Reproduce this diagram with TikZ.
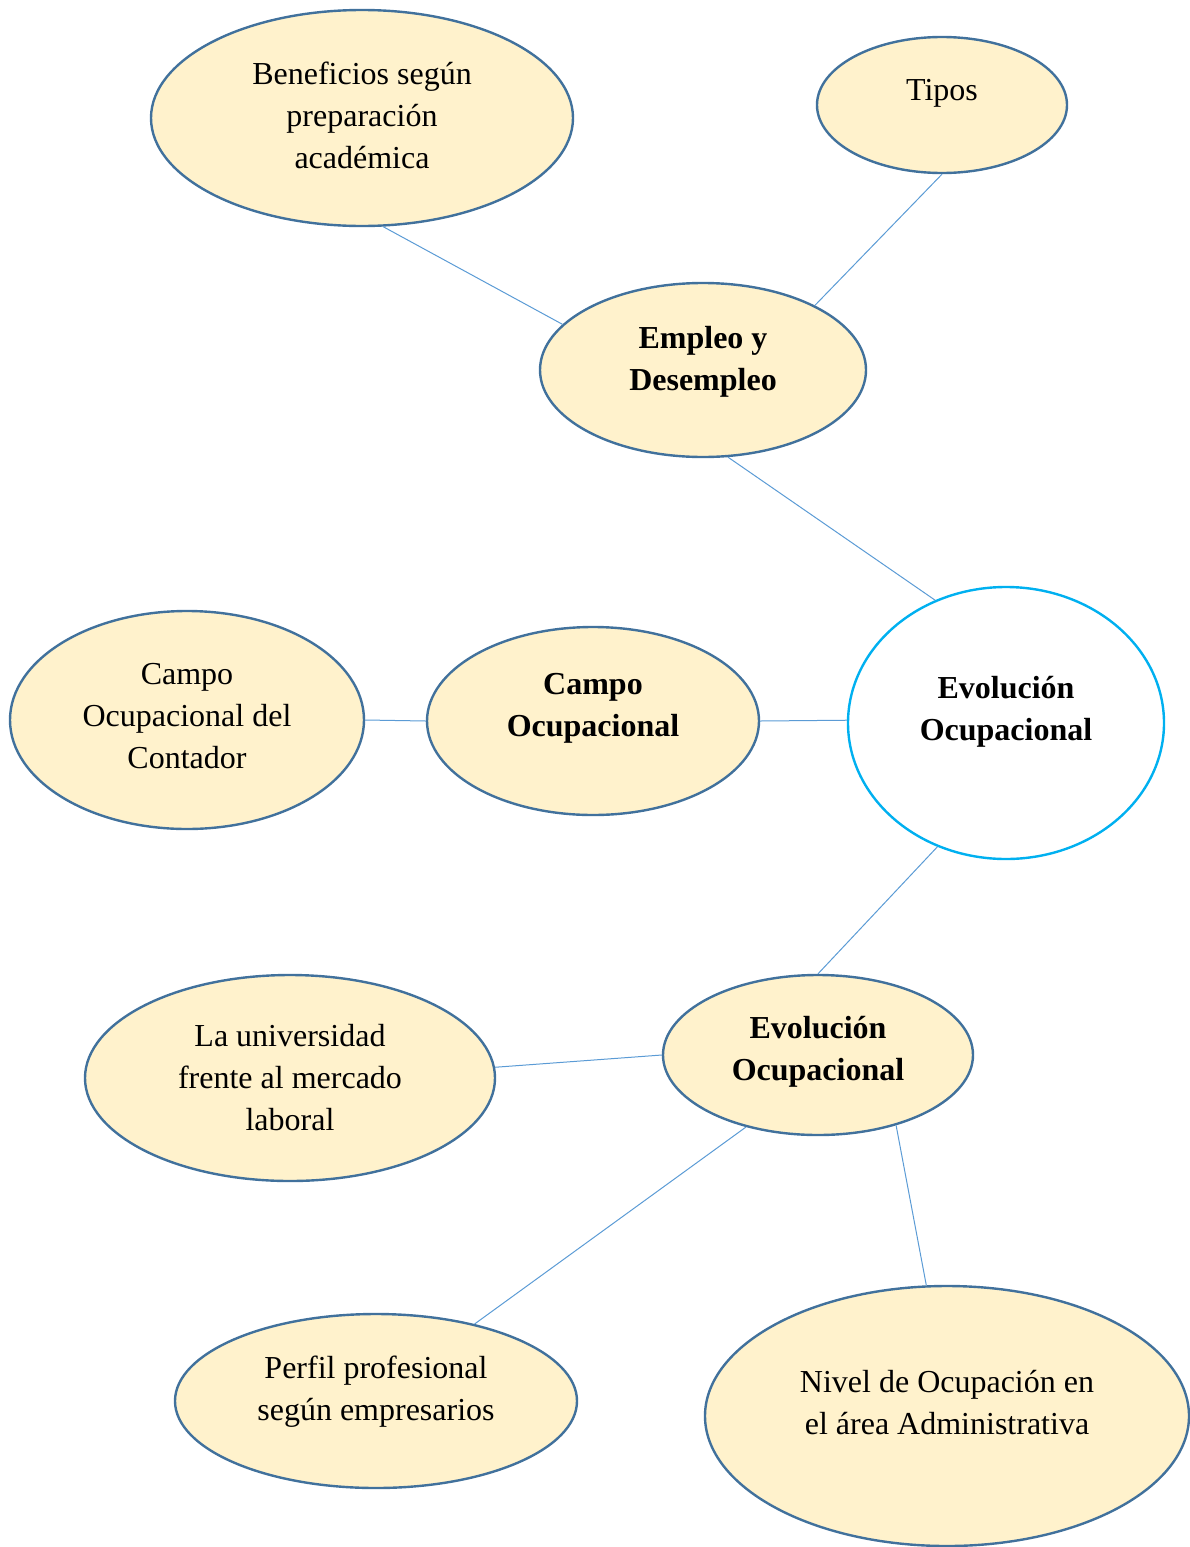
\documentclass[tikz,border=0pt]{standalone}
\usepackage{fontspec}
\setmainfont{Liberation Serif}
\usetikzlibrary{shapes.geometric}
\definecolor{fillc}{HTML}{FFF2CC}
\definecolor{bordc}{HTML}{41719C}
\definecolor{linec}{HTML}{5B9BD5}
\definecolor{cyanc}{HTML}{00B0F0}
\begin{document}
\begin{tikzpicture}[x=1pt,y=-1pt,
 bubble/.style={ellipse,draw=bordc,fill=fillc,line width=2.4pt,inner sep=0pt},
 hub/.style={ellipse,draw=cyanc,fill=white,line width=2.4pt,inner sep=0pt},
 txt/.style={align=center,font=\fontsize{32}{42}\selectfont,inner sep=0pt},
 btxt/.style={align=center,font=\fontsize{32}{42}\selectfont\bfseries,inner sep=0pt},
 link/.style={draw=linec,line width=1pt}]
\useasboundingbox (0,0) rectangle (1189,1547);
% ellipses
\node[bubble,minimum width=422,minimum height=216] (ben) at (362,118) {};
\node[bubble,minimum width=250,minimum height=136] (tip) at (942,105) {};
\node[bubble,minimum width=326,minimum height=174] (emp) at (703,370) {};
\node[hub,minimum width=316,minimum height=272] (evo) at (1006,723) {};
\node[bubble,minimum width=332,minimum height=188] (cam) at (593,721) {};
\node[bubble,minimum width=354,minimum height=218] (con) at (187,720) {};
\node[bubble,minimum width=310,minimum height=160] (evb) at (818,1055) {};
\node[bubble,minimum width=410,minimum height=206] (uni) at (290,1078) {};
\node[bubble,minimum width=402,minimum height=174] (per) at (376,1401) {};
\node[bubble,minimum width=484,minimum height=260] (niv) at (947,1416) {};
% connectors
\draw[link] (ben.281.5) -- (emp.162);
\draw[link] (tip.270) -- (emp.30);
\draw[link] (emp.286.6) -- (evo.120.8);
\draw[link] (con.0) -- (cam.180);
\draw[link] (cam.0) -- (evo.179.6);
\draw[link] (evo.241) -- (evb.90);
\draw[link] (uni.3) -- (evb.180);
\draw[link] (evb.225) -- (per.38);
\draw[link] (evb.318) -- (niv.99);
% texts
\node[txt] (tben) at (362,115) {Beneficios según\\preparación\\académica};
\node[txt] (ttip) at (942,93) {Tipos};
\node[btxt] (temp) at (703,362) {Empleo y\\Desempleo};
\node[btxt] (tevo) at (1006,712) {Evolución\\Ocupacional};
\node[btxt] (tcam) at (593,708) {Campo\\Ocupacional};
\node[txt] (tcon) at (187,716) {Campo\\Ocupacional del\\Contador};
\node[btxt] (tevb) at (818,1052) {Evolución\\Ocupacional};
\node[txt] (tuni) at (290,1078) {La universidad\\frente al mercado\\laboral};
\node[txt] (tper) at (376,1392) {Perfil profesional\\según empresarios};
\node[txt] (tniv) at (947,1403) {Nivel de Ocupación en\\el área Administrativa};
\end{tikzpicture}
\end{document}
